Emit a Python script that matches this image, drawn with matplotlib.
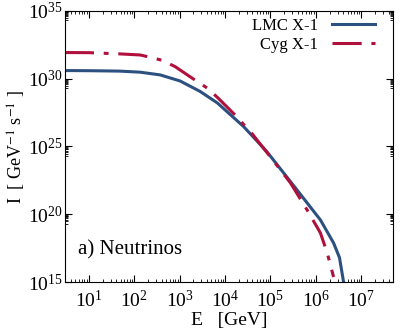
import numpy as np
import matplotlib
matplotlib.use('Agg')
import matplotlib.pyplot as plt
import matplotlib.ticker as ticker

# ── values (log10 E [GeV], log10 I) ─────────────────────────────────────
lmc_logE = [0.47, 1.0, 1.68, 2.13, 2.57, 3.01, 3.45, 3.83, 4.41, 4.92,
            5.55, 6.10, 6.39, 6.52, 6.61]
lmc_logI = [30.60, 30.59, 30.56, 30.48, 30.28, 29.83, 29.06, 28.21, 26.46,
            24.62, 21.94, 19.58, 17.88, 16.8, 15.0]

cyg_logE = [0.47, 1.0, 1.68, 2.13, 2.35, 2.61, 2.90, 3.23, 3.61, 3.85,
            4.22, 4.6, 5.0, 5.44, 5.81, 6.10, 6.25, 6.39]
cyg_logI = [31.93, 31.92, 31.83, 31.75, 31.58, 31.36, 30.89, 30.14, 29.30,
            28.56, 27.32, 25.92, 24.22, 22.31, 20.3, 18.62, 17.14, 15.37]

labels = ['LMC X-1', 'Cyg X-1']
colors = ['#2c5080', '#b0103c']

plt.rcParams['font.family'] = 'serif'
plt.rcParams['font.serif'] = ['Liberation Serif', 'DejaVu Serif']
plt.rcParams['mathtext.fontset'] = 'stix'
plt.rcParams['lines.scale_dashes'] = False

fig = plt.figure(figsize=(4.15, 3.31), dpi=100)
ax = fig.add_axes([0.157, 0.148, 0.79, 0.819])

ax.plot(10 ** np.array(lmc_logE), 10 ** np.array(lmc_logI),
        color=colors[0], lw=2.2, label=labels[0])
ax.plot(10 ** np.array(cyg_logE), 10 ** np.array(cyg_logI),
        color=colors[1], lw=2.2, ls=(0, (21, 7, 3.5, 7)), label=labels[1])

ax.set_xscale('log')
ax.set_yscale('log')
ax.set_xlim(3, 5e7)
ax.set_ylim(1e15, 1e35)

ax.xaxis.set_major_locator(ticker.FixedLocator([10.0 ** k for k in range(1, 8)]))
ax.xaxis.set_minor_locator(ticker.LogLocator(base=10, subs=np.arange(2, 10), numticks=20))
ax.xaxis.set_minor_formatter(ticker.NullFormatter())
ax.yaxis.set_major_locator(ticker.FixedLocator([10.0 ** k for k in (15, 20, 25, 30, 35)]))
ax.yaxis.set_minor_locator(ticker.FixedLocator(
    [s * 10.0 ** (m - 1) for m in (20, 25, 30, 35) for s in range(2, 10)]))
ax.yaxis.set_minor_formatter(ticker.NullFormatter())

ax.tick_params(which='both', direction='in', top=True, right=True, labelsize=14)
ax.tick_params(which='major', length=5, width=0.8)
ax.tick_params(which='minor', length=2.5, width=0.6)
ax.tick_params(axis='x', pad=6)
ax.tick_params(axis='y', pad=2)

ax.set_xlabel('E   [GeV]', fontsize=14, labelpad=0)
ax.set_ylabel('I  [ GeV$^{-1}$ s$^{-1}$ ]', fontsize=13, labelpad=0)

ax.text(0.04, 0.1, 'a) Neutrinos', transform=ax.transAxes, fontsize=15)

ax.legend(loc='upper right', bbox_to_anchor=(0.965, 1.0), borderaxespad=0,
          frameon=False, markerfirst=False, fontsize=12,
          handlelength=2.6, labelspacing=0.2)

fig.savefig('out.png', dpi=100, facecolor='white')
